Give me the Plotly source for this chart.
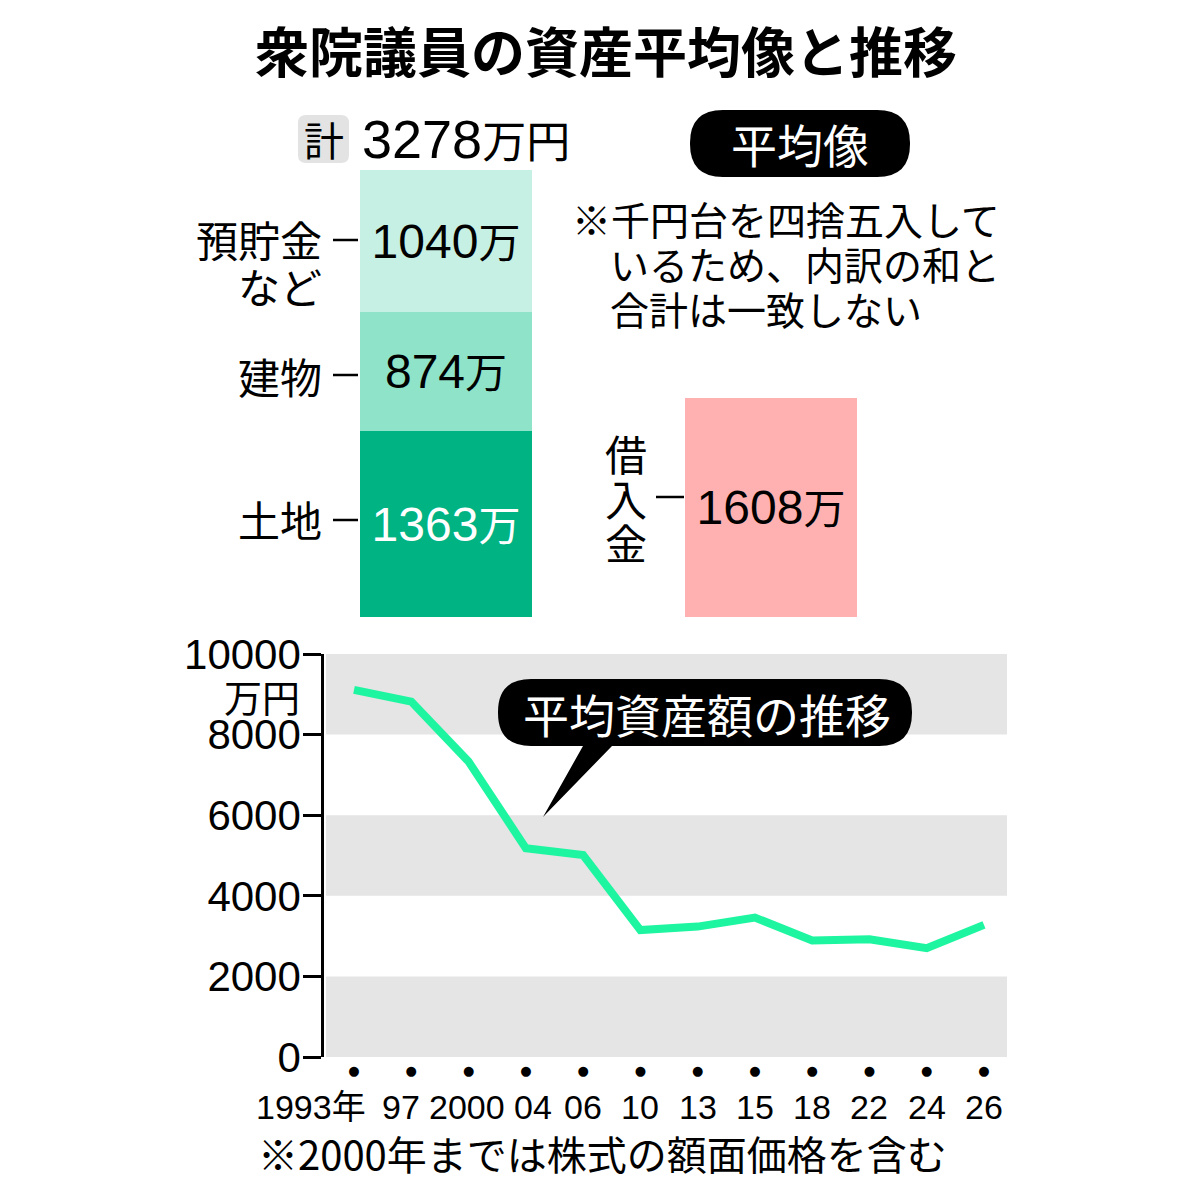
import plotly.graph_objects as go

# ---------------- data ----------------
title_text = "衆院議員の資産平均像と推移"
total_label = "計"
total_value = 3278
asset_cats = ["土地", "建物", "預貯金など"]
asset_values = [1363, 874, 1040]
asset_colors = ["#00b383", "#8ee3c9", "#c6f0e3"]
asset_text_colors = ["white", "black", "black"]
debt_label = "借入金"
debt_value = 1608
debt_color = "#ffb1b1"
note_lines = ["※千円台を四捨五入して", "いるため、内訳の和と", "合計は一致しない"]
badge_text = "平均像"

years = ["1993年", "97", "2000", "04", "06", "10", "13", "15", "18", "22", "24", "26"]
avg_assets = [9110, 8820, 7330, 5180, 5010, 3150, 3236, 3460, 2890, 2920, 2700, 3278]
y_ticks = [0, 2000, 4000, 6000, 8000, 10000]
y_unit = "万円"
bubble_text = "平均資産額の推移"
footnote = "※2000年までは株式の額面価格を含む"

# ---------------- helpers ----------------
W = H = 1200
JP = "Noto Sans CJK JP, sans-serif"
NARROW = "Liberation Sans Narrow, Liberation Sans, Noto Sans CJK JP, sans-serif"
NUM = "Liberation Sans, Arial, Noto Sans CJK JP, sans-serif"


def X(px):
    return px / W


def Y(py):
    return 1 - py / H


def rrect_path(x0, y0, x1, y1, r, pointer=None):
    p = [f"M {X(x0 + r)},{Y(y0)}", f"L {X(x1 - r)},{Y(y0)}",
         f"Q {X(x1)},{Y(y0)} {X(x1)},{Y(y0 + r)}", f"L {X(x1)},{Y(y1 - r)}",
         f"Q {X(x1)},{Y(y1)} {X(x1 - r)},{Y(y1)}"]
    if pointer:
        (bx1, tipx, tipy, bx0) = pointer
        p += [f"L {X(bx1)},{Y(y1)}", f"L {X(tipx)},{Y(tipy)}", f"L {X(bx0)},{Y(y1)}"]
    p += [f"L {X(x0 + r)},{Y(y1)}", f"Q {X(x0)},{Y(y1)} {X(x0)},{Y(y1 - r)}",
          f"L {X(x0)},{Y(y0 + r)}", f"Q {X(x0)},{Y(y0)} {X(x0 + r)},{Y(y0)}", "Z"]
    return " ".join(p)


fig = go.Figure()

# ---------------- top: stacked asset bar + debt bar ----------------
for cat, val, col, tcol in zip(asset_cats, asset_values, asset_colors, asset_text_colors):
    fig.add_trace(go.Bar(
        x=[0], y=[val], name=cat, marker=dict(color=col, line=dict(width=0)),
        width=0.529, xaxis="x2", yaxis="y2",
        texttemplate="%{y}<span style='font-size:42px'>万</span>",
        textposition="inside", insidetextanchor="middle", constraintext="none",
        textfont=dict(family=NUM, size=48, color=tcol), showlegend=False,
        hoverinfo="skip"))

fig.add_trace(go.Bar(
    x=[1], y=[debt_value], name=debt_label, marker=dict(color=debt_color, line=dict(width=0)),
    width=0.529, xaxis="x2", yaxis="y2",
    texttemplate="%{y}<span style='font-size:42px'>万</span>",
    textposition="inside", insidetextanchor="middle", constraintext="none",
    textfont=dict(family=NUM, size=48, color="black"), showlegend=False,
    hoverinfo="skip"))

# ---------------- bottom: line chart ----------------
fig.add_trace(go.Scatter(
    x=list(range(len(years))), y=avg_assets, mode="lines",
    line=dict(color="#1ef5a0", width=8), showlegend=False, hoverinfo="skip",
    xaxis="x", yaxis="y"))

shapes = []
# alternating gray bands
for i in range(0, len(y_ticks) - 1, 2):
    shapes.append(dict(type="rect", xref="x domain", yref="y", x0=0.003, x1=1,
                       y0=y_ticks[i], y1=y_ticks[i + 1],
                       fillcolor="#e5e5e5", line=dict(width=0), layer="below"))

# 計 box
shapes.append(dict(type="path", xref="paper", yref="paper",
                   path=rrect_path(298, 115, 349, 163, 8),
                   fillcolor="#e3e3e3", line=dict(width=0)))
# 平均像 pill
shapes.append(dict(type="path", xref="paper", yref="paper",
                   path=rrect_path(690, 110, 910, 177, 33),
                   fillcolor="black", line=dict(width=0)))
# speech bubble
shapes.append(dict(type="path", xref="paper", yref="paper",
                   path=rrect_path(498, 679, 912, 746, 33, pointer=(612, 543, 817, 583)),
                   fillcolor="black", line=dict(width=0)))
# leader dashes
for (x0, x1, yy) in [(333, 358, 240), (333, 358, 375), (333, 358, 520), (656, 684, 497)]:
    shapes.append(dict(type="line", xref="paper", yref="paper",
                       x0=X(x0), x1=X(x1), y0=Y(yy), y1=Y(yy),
                       line=dict(color="black", width=2.5)))

ann = []
ann.append(dict(text=f"<b>{title_text}</b>", x=X(606), y=Y(50), xref="paper", yref="paper",
                showarrow=False, xanchor="center", yanchor="middle",
                font=dict(family=JP, size=54, color="black")))
ann.append(dict(text=total_label, x=X(323.5), y=Y(139), xref="paper", yref="paper",
                showarrow=False, xanchor="center", yanchor="middle",
                font=dict(family=JP, size=40, color="black")))
ann.append(dict(text=f"{total_value}<span style='font-size:44px'>万円</span>",
                x=X(360), y=Y(139), xref="paper", yref="paper",
                showarrow=False, xanchor="left", yanchor="middle",
                font=dict(family=NUM, size=54, color="black")))
ann.append(dict(text=badge_text, x=X(800), y=Y(143), xref="paper", yref="paper",
                showarrow=False, xanchor="center", yanchor="middle",
                font=dict(family=JP, size=46, color="white")))
for i, (line, lx) in enumerate(zip(note_lines, [570, 608, 608])):
    ann.append(dict(text=line, x=X(lx), y=Y(218 + 45 * i), xref="paper", yref="paper",
                    showarrow=False, xanchor="left", yanchor="middle",
                    font=dict(family=JP, size=39, color="black")))
# left labels of asset bar
for txt, yy in [("預貯金", 238), ("など", 285), ("建物", 375), ("土地", 518)]:
    ann.append(dict(text=txt, x=X(324), y=Y(yy), xref="paper", yref="paper",
                    showarrow=False, xanchor="right", yanchor="middle",
                    font=dict(family=JP, size=42, color="black")))
# vertical debt label
for i, ch in enumerate(debt_label):
    ann.append(dict(text=ch, x=X(626), y=Y(453 + 44 * i), xref="paper", yref="paper",
                    showarrow=False, xanchor="center", yanchor="middle",
                    font=dict(family=JP, size=42, color="black")))
# bubble text
ann.append(dict(text=bubble_text, x=X(707), y=Y(713), xref="paper", yref="paper",
                showarrow=False, xanchor="center", yanchor="middle",
                font=dict(family=JP, size=46, color="white")))
# y unit
ann.append(dict(text=y_unit, x=X(302), y=Y(695), xref="paper", yref="paper",
                showarrow=False, xanchor="right", yanchor="middle",
                font=dict(family=JP, size=38, color="black")))
# x year labels
x_shift = {0: 14, 1: -10, 2: -2, 3: 7}
for i, yr in enumerate(years):
    ann.append(dict(text=yr, x=i, y=Y(1107), xref="x", yref="paper",
                    showarrow=False, xanchor="right" if i == 0 else "center",
                    xshift=x_shift.get(i, 0), yanchor="middle",
                    font=dict(family=NARROW, size=34, color="black")))
# footnote
ann.append(dict(text=footnote, x=X(256), y=Y(1153), xref="paper", yref="paper",
                showarrow=False, xanchor="left", yanchor="middle",
                font=dict(family=JP, size=40, color="black")))

fig.update_layout(
    width=W, height=H, margin=dict(l=0, r=0, t=0, b=0, pad=0, autoexpand=False),
    paper_bgcolor="white", plot_bgcolor="rgba(0,0,0,0)",
    barmode="stack", bargap=0,
    shapes=shapes, annotations=ann,
    xaxis=dict(domain=[X(324), X(1007)], anchor="y",
               range=[-0.524, 11.402], tickmode="array",
               tickvals=list(range(len(years))), ticktext=["●"] * len(years),
               tickfont=dict(family="DejaVu Sans", size=13, color="black"),
               ticks="", showgrid=False, zeroline=False, showline=False,
               tickangle=0, ticklabelstandoff=4, fixedrange=True),
    yaxis=dict(domain=[Y(1057), Y(654)], anchor="x", range=[0, 10000],
               tickmode="array", tickvals=y_ticks, ticktext=[str(v) for v in y_ticks],
               tickfont=dict(family=NARROW, size=42, color="black"),
               ticks="outside", ticklen=18, tickwidth=2.5, tickcolor="black",
               showline=True, linecolor="black", linewidth=2.5,
               showgrid=False, zeroline=False, ticklabelstandoff=-6, fixedrange=True),
    xaxis2=dict(domain=[0, 1], anchor="y2", range=[-446 / 325, (1200 - 446) / 325],
                visible=False, fixedrange=True),
    yaxis2=dict(domain=[Y(617), Y(170)], anchor="x2", range=[0, sum(asset_values)],
                visible=False, fixedrange=True),
)

fig.write_html("out.html")
